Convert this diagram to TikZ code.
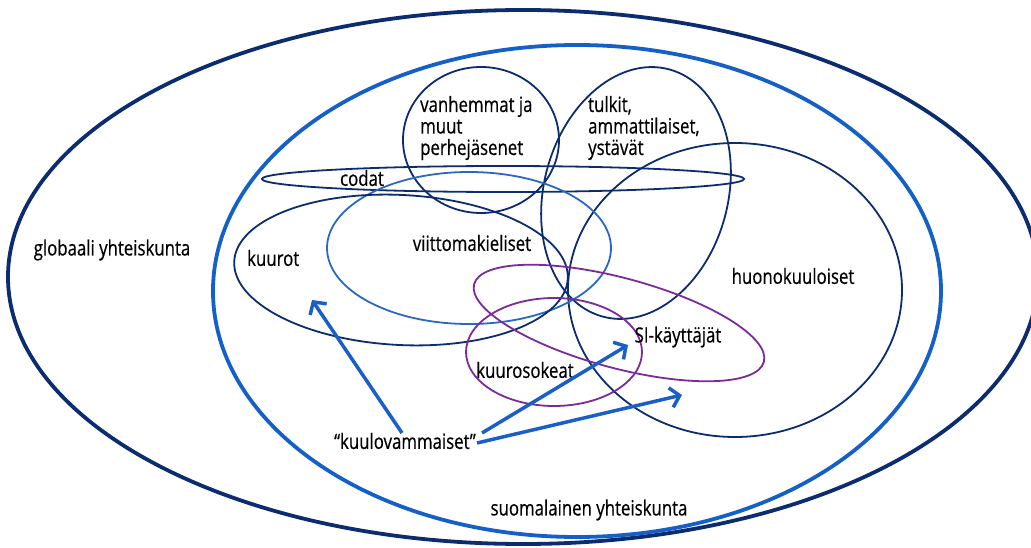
\documentclass[tikz,border=0pt]{standalone}
\usepackage{fontspec}
\setmainfont{Open Sans}[FakeStretch=0.8,FakeBold=0.5]
\usetikzlibrary{arrows.meta}
\definecolor{navy}{HTML}{0B2C6E}
\definecolor{fiblue}{HTML}{1560C8}
\definecolor{lblue}{HTML}{2A68C4}
\definecolor{purp}{HTML}{7B2A9A}
\definecolor{arr}{HTML}{1A5FC8}
\tikzset{
  outerring/.style={draw=navy, line width=3.8pt},
  finring/.style={draw=fiblue, line width=3.8pt},
  grp/.style={draw=navy, line width=1.8pt},
  grplight/.style={draw=lblue, line width=1.8pt},
  grppurp/.style={draw=purp, line width=1.8pt},
  lbl/.style={inner sep=0pt, font=\fontsize{21}{21.5}\selectfont, text=black},
  bigarrow/.style={draw=arr, line width=3.5pt, -{Straight Barb[length=9pt,width=20pt,line width=3.5pt]}},
}
\begin{document}
\begin{tikzpicture}[x=1pt,y=1pt]
\useasboundingbox (0,0) rectangle (1031,547);
% rings
\draw[outerring] (523,270) ellipse [x radius=515, y radius=267];
\draw[finring] (577,256) ellipse [x radius=364, y radius=246];
% groups
\draw[grp] (481,407) ellipse [x radius=78, y radius=73];
\draw[grp] (636,354) ellipse [x radius=92, y radius=128, rotate=-15];
\draw[grp] (735,257) ellipse [x radius=167, y radius=147];
\draw[grp] (503,368) ellipse [x radius=241, y radius=13];
\draw[grplight] (469,299) ellipse [x radius=142, y radius=76];
\draw[grp] (401,277) ellipse [x radius=167, y radius=75, rotate=-3];
\draw[grppurp] (619,224) ellipse [x radius=150, y radius=45, rotate=-15];
\draw[grppurp] (554,195) ellipse [x radius=88, y radius=54];
% labels
\node[lbl, anchor=west, align=left] (vanh) at (420,419) {vanhemmat ja\\muut\\perhejäsenet};
\node[lbl, anchor=west, align=left] (tulk) at (588,419) {tulkit,\\ammattilaiset,\\ystävät};
\node[lbl] (codat) at (362,369) {codat};
\node[lbl] (viit) at (472,304) {viittomakieliset};
\node[lbl, anchor=west] (kuurot) at (247,289) {kuurot};
\node[lbl] (huono) at (793,271) {huonokuuloiset};
\node[lbl] (si) at (678,210) {SI-käyttäjät};
\node[lbl] (ks) at (525,177) {kuurosokeat};
\node[lbl] (kv) at (405,106) {“kuulovammaiset”};
\node[lbl] (glob) at (112,297) {globaali yhteiskunta};
\node[lbl] (suom) at (589,37) {suomalainen yhteiskunta};
% arrows
\coordinate (t1) at (402,114);
\coordinate (h1) at (312,247);
\coordinate (t2) at (482,114);
\coordinate (h2) at (628,202);
\coordinate (t3) at (477,104);
\coordinate (h3) at (682,152);
\draw[bigarrow] (t1) -- (h1);
\draw[bigarrow] (t2) -- (h2);
\draw[bigarrow] (t3) -- (h3);
\end{tikzpicture}
\end{document}
